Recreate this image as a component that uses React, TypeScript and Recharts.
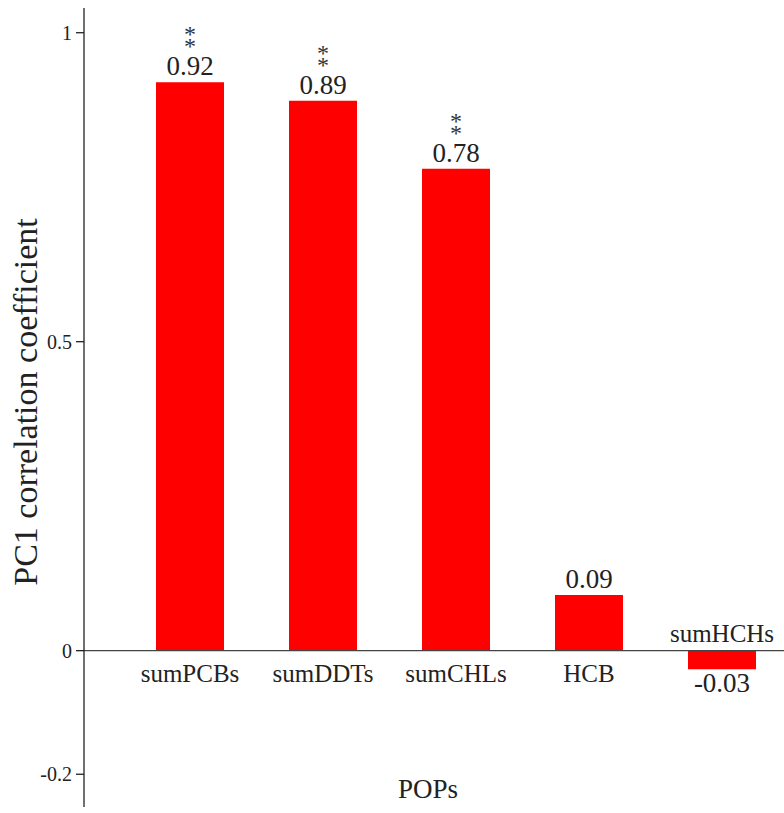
import { BarChart, Bar, XAxis, YAxis, ReferenceLine, LabelList } from 'recharts'

const pops = ['sumPCBs', 'sumDDTs', 'sumCHLs', 'HCB', 'sumHCHs']
const coefficients = [0.92, 0.89, 0.78, 0.09, -0.03]
const significance = ['**', '**', '**', '', '']
const yTicks = [-0.2, 0, 0.5, 1]

const data = pops.map((name, i) => ({ name, value: coefficients[i], sig: significance[i] }))

const FONT = 'Liberation Serif, Times New Roman, serif'
const INK = '#222'

// value, significance stars and category name drawn around each bar
function BarLabels(props: any) {
  const vb = props.viewBox || props
  const i = props.index
  const row = data[i]
  if (!row) return null
  const x = vb.x + vb.width / 2
  const top = Math.min(vb.y, vb.y + vb.height)
  const bottom = Math.max(vb.y, vb.y + vb.height)

  if (row.value >= 0) {
    return (
      <g style={{ fontFamily: FONT }} fill={INK} textAnchor="middle">
        {row.sig.split('').map((s, k) => (
          <text key={k} x={x} y={top - 40 + k * 12} fontSize={24} fill="#333">
            {s}
          </text>
        ))}
        <text x={x} y={top - 7} fontSize={27}>
          {row.value.toFixed(2)}
        </text>
        <text x={x} y={bottom + 31} fontSize={25}>
          {row.name}
        </text>
      </g>
    )
  }
  return (
    <g style={{ fontFamily: FONT }} fill={INK} textAnchor="middle">
      <text x={x} y={top - 9} fontSize={25}>
        {row.name}
      </text>
      <text x={x} y={bottom + 23} fontSize={27}>
        {row.value.toFixed(2)}
      </text>
    </g>
  )
}

function Titles() {
  return (
    <g style={{ fontFamily: FONT }} fill={INK}>
      <text x={37} y={402} fontSize={34} textAnchor="middle" transform="rotate(-90, 37, 402)">
        PC1 correlation coefficient
      </text>
      <text x={428} y={798} fontSize={27} textAnchor="middle">
        POPs
      </text>
    </g>
  )
}

export default function App() {
  return (
    <div
      style={{
        position: 'absolute',
        left: 0,
        top: 0,
        width: 784,
        height: 813,
        overflow: 'hidden',
        background: '#fff',
        fontFamily: FONT,
      }}
    >
      <BarChart width={788} height={813} data={data} margin={{ top: 8, right: 0, bottom: 6, left: 0 }}>
        <XAxis
          dataKey="name"
          height={0}
          tick={false}
          axisLine={false}
          tickLine={false}
          padding={{ left: 39, right: 0 }}
        />
        <YAxis
          width={84}
          domain={[-0.253, 1.04]}
          ticks={yTicks}
          allowDataOverflow
          tickSize={8}
          tickMargin={4}
          axisLine={{ stroke: INK, strokeWidth: 1.3 }}
          tickLine={{ stroke: INK, strokeWidth: 1.3 }}
          tick={{ fontSize: 20, fill: INK, style: { fontFamily: FONT } }}
          label={{ content: () => <Titles /> }}
        />
        <ReferenceLine y={0} stroke="#444" strokeWidth={1.3} />
        <Bar dataKey="value" barSize={68} fill="#ff0000" isAnimationActive={false}>
          <LabelList dataKey="value" content={(p: any) => <BarLabels {...p} />} />
        </Bar>
      </BarChart>
    </div>
  )
}
